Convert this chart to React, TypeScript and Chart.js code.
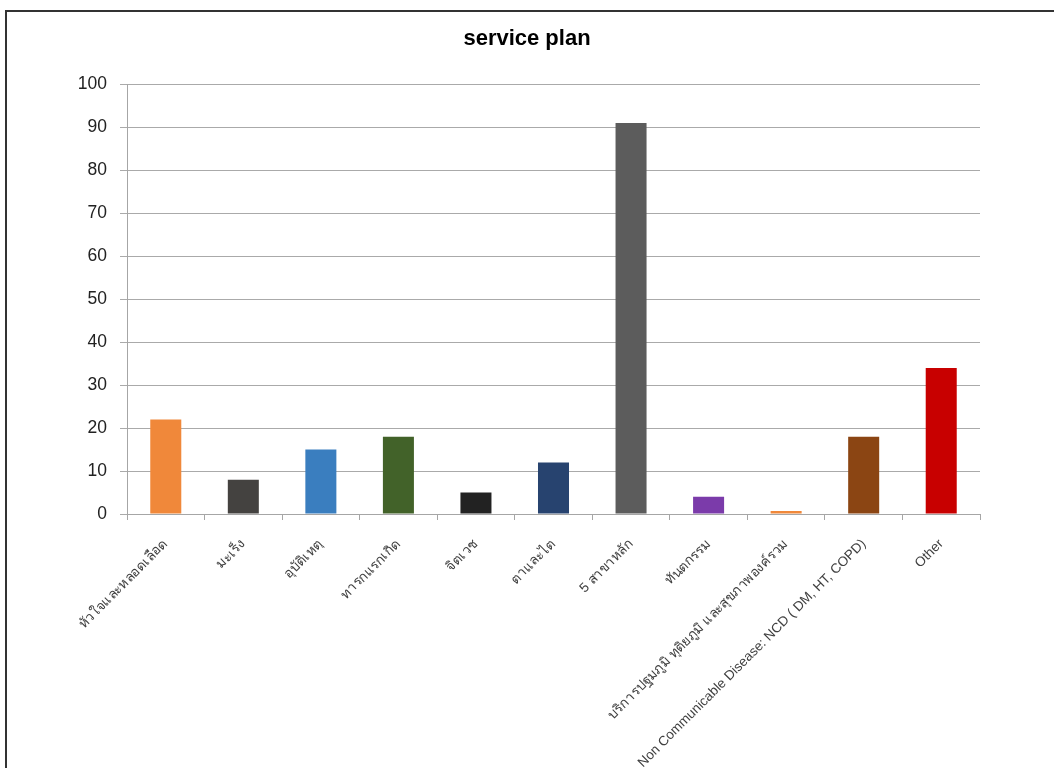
import React, { useEffect, useRef } from "react";
import { Chart, registerables } from "chart.js";

Chart.register(...registerables);

const categories: string[] = [
  "หัวใจและหลอดเลือด",
  "มะเร็ง",
  "อุบัติเหตุ",
  "ทารกแรกเกิด",
  "จิตเวช",
  "ตาและไต",
  "5 สาขาหลัก",
  "ทันตกรรม",
  "บริการปฐมภูมิ ทุติยภูมิ และสุขภาพองค์รวม",
  "Non Communicable Disease: NCD ( DM, HT, COPD)",
  "Other",
];

const values: number[] = [22, 8, 15, 18, 5, 12, 91, 4, 0.7, 18, 34];

const barColors: string[] = [
  "#F0883A",
  "#444240",
  "#3A7EBF",
  "#426229",
  "#222222",
  "#27436F",
  "#5C5C5C",
  "#7B3BAA",
  "#F0883A",
  "#8B4513",
  "#C80000",
];

const yTicks: number[] = [0, 10, 20, 30, 40, 50, 60, 70, 80, 90, 100];

const FONT = "'Liberation Sans', Arial, 'DejaVu Sans', 'Noto Sans', sans-serif";

export default function App() {
  const canvasRef = useRef<HTMLCanvasElement | null>(null);

  useEffect(() => {
    if (!canvasRef.current) return;
    const chart = new Chart(canvasRef.current, {
      type: "bar",
      data: {
        labels: categories,
        datasets: [
          {
            data: values,
            backgroundColor: barColors,
            borderWidth: 0,
            barPercentage: 0.4,
            categoryPercentage: 1,
          },
        ],
      },
      options: {
        animation: false,
        responsive: false,
        maintainAspectRatio: false,
        layout: { padding: 0 },
        plugins: {
          legend: { display: false },
          tooltip: { enabled: false },
          title: {
            display: true,
            text: "service plan",
            color: "#000000",
            font: { family: FONT, size: 22, weight: "bold" },
            padding: { top: 26, bottom: 32 },
          },
        },
        scales: {
          x: {
            offset: true,
            grid: {
              display: true,
              drawOnChartArea: false,
              drawTicks: true,
              tickLength: 6,
              color: "#a6a6a6",
              offset: true,
            },
            border: { display: true, color: "#a6a6a6", width: 1 },
            ticks: {
              autoSkip: false,
              maxRotation: 45,
              minRotation: 45,
              padding: 16,
              color: "#404040",
              font: { family: FONT, size: 13.5 },
            },
            afterFit: (scale: any) => {
              scale.height = 254;
            },
          },
          y: {
            min: 0,
            max: 100,
            afterBuildTicks: (scale: any) => {
              scale.ticks = yTicks.map((v) => ({ value: v }));
            },
            grid: {
              color: "#aaaaaa",
              tickLength: 7,
              drawTicks: true,
            },
            border: { display: true, color: "#a6a6a6", width: 1 },
            ticks: {
              padding: 13,
              color: "#222222",
              font: { family: FONT, size: 17.5 },
            },
            afterFit: (scale: any) => {
              scale.width = 127;
            },
          },
          yRight: {
            position: "right",
            min: 0,
            max: 100,
            grid: { drawOnChartArea: false, drawTicks: false },
            border: { display: false },
            ticks: { display: false },
            afterFit: (scale: any) => {
              scale.width = 74;
            },
          },
        },
      },
    });
    return () => chart.destroy();
  }, []);

  return (
    <div
      style={{
        position: "fixed",
        left: 0,
        top: 0,
        width: 1054,
        height: 768,
        overflow: "hidden",
        background: "#ffffff",
      }}
    >
      <div
        style={{
          position: "absolute",
          left: 5,
          top: 10,
          width: 1100,
          height: 800,
          border: "2px solid #333333",
          boxSizing: "border-box",
        }}
      />
      <canvas
        ref={canvasRef}
        width={1054}
        height={768}
        style={{ position: "absolute", left: 0, top: 0, width: 1054, height: 768 }}
      />
    </div>
  );
}
